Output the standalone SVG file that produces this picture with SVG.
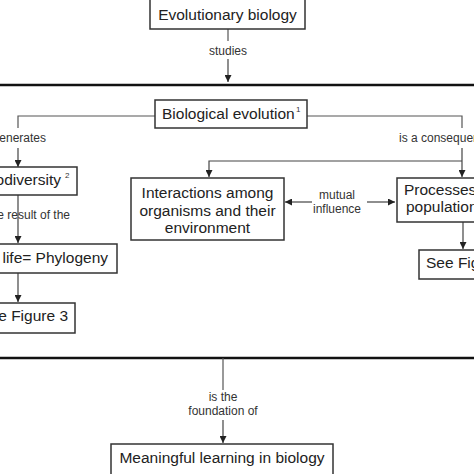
<svg xmlns="http://www.w3.org/2000/svg" width="474" height="474" viewBox="0 0 474 474">
<defs>
<marker id="ah" viewBox="0 0 10 10" refX="10" refY="5" markerWidth="7" markerHeight="7" markerUnits="userSpaceOnUse" orient="auto-start-reverse">
<path d="M0,0 L10,5 L0,10 z" fill="#222"/>
</marker>
<style>
.box{fill:#fff;stroke:#333;stroke-width:1.5}
.t{font-family:"Liberation Sans",Arial,sans-serif;font-size:15.5px;fill:#222}
.s{font-family:"Liberation Sans",Arial,sans-serif;font-size:12px;fill:#333}
.sup{font-family:"Liberation Sans",Arial,sans-serif;font-size:8px;fill:#333}
.c{fill:none;stroke:#555;stroke-width:1.2}
.a{fill:none;stroke:#444;stroke-width:1.2;marker-end:url(#ah)}
.thick{stroke:#111;stroke-width:2.5}
</style>
</defs>
<rect width="474" height="474" fill="#fff"/>
<g id="connectors">
<line class="c" x1="228" y1="29" x2="228" y2="41"/>
<line class="a" x1="228" y1="59" x2="228" y2="82"/>
<line class="thick" x1="0" y1="85" x2="474" y2="85"/>
<polyline class="c" points="155,116 18,116 18,128"/>
<line class="a" x1="18" y1="148" x2="18" y2="167"/>
<polyline class="c" points="307,116 462,116 462,128"/>
<line class="a" x1="462" y1="148" x2="462" y2="177"/>
<polyline class="a" points="462,161 209,161 209,177"/>
<line class="a" x1="312" y1="202" x2="285" y2="202"/>
<line class="a" x1="367" y1="202" x2="395" y2="202"/>
<line class="a" x1="463" y1="222" x2="463" y2="249"/>
<line class="a" x1="18" y1="195" x2="18" y2="243"/>
<line class="a" x1="18" y1="273" x2="18" y2="302"/>
<line class="thick" x1="0" y1="358" x2="474" y2="358"/>
<line class="c" x1="223" y1="358" x2="223" y2="390"/>
<line class="a" x1="223" y1="420" x2="223" y2="443"/>
<text class="s" x="228" y="55" text-anchor="middle">studies</text>
<text class="s" x="46" y="142" text-anchor="end">generates</text>
<text class="s" x="399" y="142">is a consequence of</text>
<text class="s" x="337" y="199" text-anchor="middle">mutual</text>
<text class="s" x="337" y="213" text-anchor="middle">influence</text>
<text class="s" x="70" y="219" text-anchor="end">is the result of the</text>
<text class="s" x="223" y="401" text-anchor="middle">is the</text>
<text class="s" x="223" y="415" text-anchor="middle">foundation of</text>
</g>
<g id="evolutionary-biology">
<rect class="box" x="150" y="-1" width="155" height="30"/>
<text class="t" x="227.5" y="20" text-anchor="middle">Evolutionary biology</text>
</g>
<g id="biological-evolution">
<rect class="box" x="155" y="100" width="152" height="28"/>
<text class="t" x="162" y="119">Biological evolution</text>
<text class="sup" x="296" y="112">1</text>
</g>
<g id="biodiversity">
<rect class="box" x="-2" y="167" width="79" height="28"/>
<text class="t" x="61" y="185" text-anchor="end">Biodiversity</text>
<text class="sup" x="65" y="178">2</text>
</g>
<g id="phylogeny">
<rect class="box" x="-2" y="244" width="119" height="29"/>
<text class="t" x="108" y="263" text-anchor="end">Tree of life= Phylogeny</text>
</g>
<g id="figure3">
<rect class="box" x="-2" y="303" width="77" height="30"/>
<text class="t" x="68" y="321" text-anchor="end">See Figure 3</text>
</g>
<g id="interactions">
<rect class="box" x="131" y="178" width="153" height="62"/>
<text class="t" x="207.5" y="198" text-anchor="middle">Interactions among</text>
<text class="t" x="207.5" y="215.5" text-anchor="middle">organisms and their</text>
<text class="t" x="207.5" y="233" text-anchor="middle">environment</text>
</g>
<g id="processes">
<rect class="box" x="397" y="178" width="90" height="44"/>
<text class="t" x="404" y="195">Processes in</text>
<text class="t" x="406" y="212">populations</text>
</g>
<g id="figure4">
<rect class="box" x="419" y="250" width="80" height="29"/>
<text class="t" x="426" y="268">See Figure 4</text>
</g>
<g id="meaningful-learning">
<rect class="box" x="111" y="444" width="222" height="31"/>
<text class="t" x="222" y="463" text-anchor="middle">Meaningful learning in biology</text>
</g>
</svg>
